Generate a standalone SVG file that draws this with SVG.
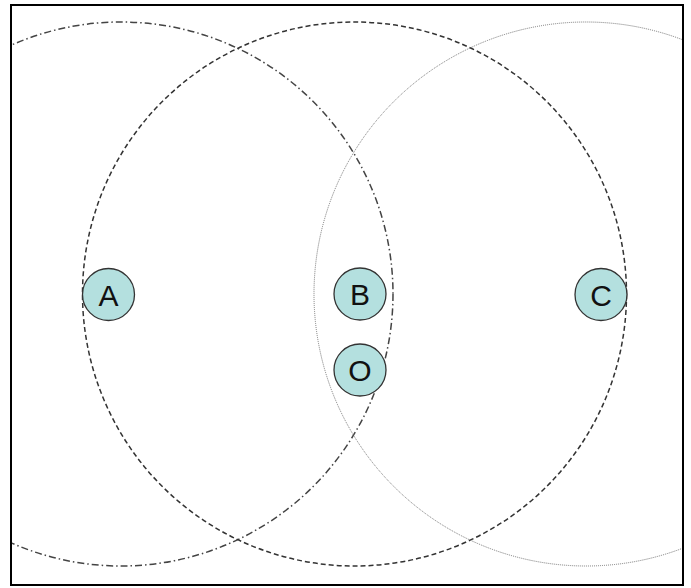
<svg xmlns="http://www.w3.org/2000/svg" width="691" height="588" viewBox="0 0 691 588">
<style>
.ring{fill:none}
.dashdot{stroke:#444;stroke-width:1.5;stroke-dasharray:7 3 1.5 3}
.dash{stroke:#333;stroke-width:1.5;stroke-dasharray:5 3}
.dot{stroke:#777;stroke-width:1;stroke-dasharray:1 1}
.node circle{fill:#b4e0df;stroke:#333;stroke-width:1.3}
.node text{font-family:"Liberation Sans",Arial,sans-serif;font-size:30px;fill:#111;text-anchor:middle;dominant-baseline:central}
</style>
<rect x="0" y="0" width="691" height="588" fill="#fff"/>
<defs><clipPath id="frame"><rect x="12" y="6" width="670" height="578"/></clipPath></defs>
<g id="connectors" clip-path="url(#frame)">
<circle class="ring dashdot" cx="121" cy="294" r="272"/>
<circle class="ring dash" cx="354.5" cy="294" r="272"/>
<circle class="ring dot" cx="586" cy="294" r="272"/>
</g>
<rect x="11" y="5" width="672" height="580" fill="none" stroke="#000" stroke-width="2"/>
<g id="node-A" class="node"><circle cx="108.5" cy="294.5" r="26"/><text x="108.5" y="295">A</text></g>
<g id="node-B" class="node"><circle cx="360" cy="294" r="26"/><text x="360" y="294.5">B</text></g>
<g id="node-O" class="node"><circle cx="360" cy="370" r="26"/><text x="360" y="370.5">O</text></g>
<g id="node-C" class="node"><circle cx="601" cy="294.5" r="26"/><text x="601" y="295">C</text></g>
</svg>
